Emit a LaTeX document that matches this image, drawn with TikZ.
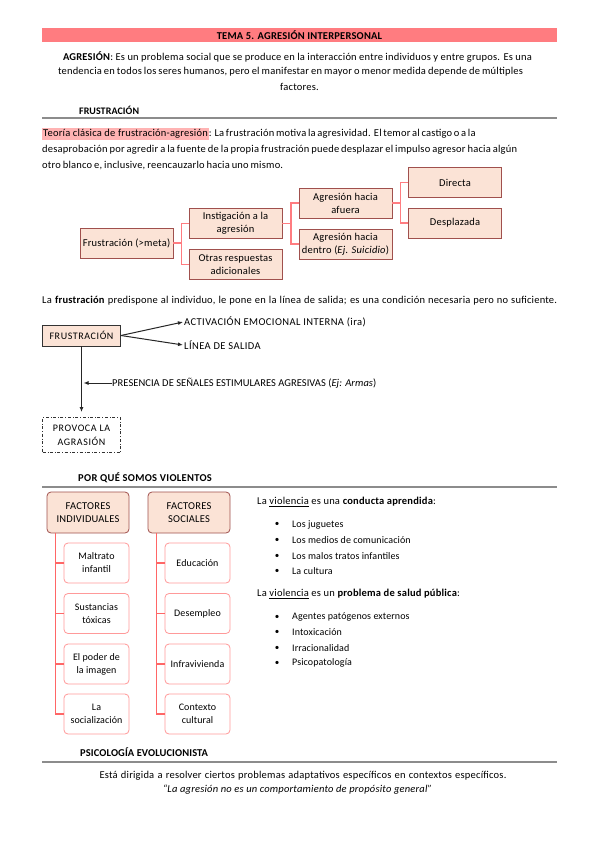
\documentclass[tikz,border=0pt]{standalone}
\usepackage{fontspec}
\setmainfont{Carlito}
\usetikzlibrary{arrows.meta}
\definecolor{titlebar}{HTML}{FF7C80}
\definecolor{hl}{HTML}{FFB3B3}
\definecolor{peach}{HTML}{FBE3D6}
\definecolor{dkred}{HTML}{A0504D}
\definecolor{conn}{HTML}{FF7C80}
\definecolor{pinkb}{HTML}{FF9999}
\definecolor{redline}{HTML}{FF6666}
\definecolor{rulegray}{HTML}{8C8C8C}
\newcommand{\fs}[1]{\fontsize{#1}{#1}\selectfont}
\newcommand{\lsp}[1]{\addfontfeatures{LetterSpace=#1}}
\newcommand{\fitline}[2]{\makebox[#1][s]{#2}}
\tikzset{
  txt/.style={font=\fs{10.5}\lsp{2}, inner sep=0pt},
  head/.style={font=\bfseries\fs{10}\lsp{1}, inner sep=0pt, anchor=west},
  hrule/.style={draw=rulegray, line width=1.3pt},
  tbox/.style={draw=dkred, fill=peach, line width=0.9pt, minimum width=93pt, minimum height=30pt,
    align=center, inner sep=1pt, font=\fontsize{10.5}{13}\selectfont\lsp{2}},
  tconn/.style={draw=conn, line width=1.1pt},
  fparent/.style={draw=dkred, fill=peach, line width=0.8pt, rounded corners=4pt, minimum width=82pt,
    minimum height=41pt, align=center, inner sep=1pt, font=\fontsize{10.5}{13}\selectfont\lsp{2}},
  fchild/.style={draw=pinkb, fill=white, line width=0.8pt, rounded corners=4pt, minimum width=65pt,
    minimum height=40pt, align=center, inner sep=1pt, font=\fontsize{10}{13}\selectfont\lsp{1}},
  fline/.style={draw=redline, line width=1.1pt},
  arr/.style={-{Latex[length=5pt,width=4pt]}, line width=1pt, draw=black!85},
  caplab/.style={inner sep=0pt, anchor=west, font=\fs{10.5}\lsp{4}},
  bul/.style={inner sep=0pt, anchor=center, font=\fs{9}},
  item/.style={inner sep=0pt, anchor=west, font=\fs{10}\lsp{1}}
}
\begin{document}
\begin{tikzpicture}[x=1pt,y=-1pt]
\useasboundingbox (0,0) rectangle (599,848);
\fill[white] (0,0) rectangle (599,848);

% title
\node[fill=titlebar, minimum width=515pt, minimum height=14pt, inner sep=0pt,
  font=\bfseries\fs{10.5}\lsp{2}] (title) at (299.5,35) {TEMA 5. AGRESIÓN INTERPERSONAL};

\node[txt] (p1) at (297.5,57) {\fitline{469pt}{\textbf{AGRESIÓN}: Es un problema social que se produce en la interacción entre individuos y entre grupos. Es una}};
\node[txt] (p2) at (290.5,72) {\fitline{465pt}{tendencia en todos los seres humanos, pero el manifestar en mayor o menor medida depende de múltiples}};
\node[txt] (p3) at (299.5,87) {factores.};

% FRUSTRACION heading
\node[head] (h1) at (79,110) {FRUSTRACIÓN};
\draw[hrule] (42,118) coordinate (r1a) -- (557,118) coordinate (r1b);

\node[txt, anchor=west] (t1) at (42,134) {\fitline{433pt}{{\setlength\fboxsep{1pt}\colorbox{hl}{Teoría clásica de frustración-agresión}}: La frustración motiva la agresividad. El temor al castigo o a la}};
\node[txt, anchor=west] (t2) at (42,150) {\fitline{475pt}{desaprobación por agredir a la fuente de la propia frustración puede desplazar el impulso agresor hacia algún}};
\node[txt, anchor=west] (t3) at (42,166) {\fitline{241pt}{otro blanco e, inclusive, reencauzarlo hacia uno mismo.}};

% tree
\node[tbox] (fr) at (126.5,243) {Frustración (>meta)};
\node[tbox] (ins) at (235.5,223.5) {Instigación a la\\agresión};
\node[tbox] (otr) at (235.5,264.5) {Otras respuestas\\adicionales};
\node[tbox] (afu) at (345.5,203) {Agresión hacia\\afuera};
\node[tbox] (den) at (345.5,244) {Agresión hacia\\dentro (\textit{Ej. Suicidio})};
\node[tbox] (dir) at (455,182.5) {Directa};
\node[tbox] (des) at (455,223) {Desplazada};

\draw[tconn] (fr.east) -- ++(8,0) |- (ins.west);
\draw[tconn] (fr.east) -- ++(8,0) |- (otr.west);
\draw[tconn] (ins.east) -- ++(8.5,0) |- (afu.west);
\draw[tconn] (ins.east) -- ++(8.5,0) |- (den.west);
\draw[tconn] (afu.east) -- ++(8,0) |- (dir.west);
\draw[tconn] (afu.east) -- ++(8,0) |- (des.west);

% predisposition
\node[txt, anchor=west] (pl) at (42,301) {\fitline{515pt}{La \textbf{frustración} predispone al individuo, le pone en la línea de salida; es una condición necesaria pero no suficiente.}};

\node[draw=black!80, fill=peach, line width=0.9pt, minimum width=78pt, minimum height=21pt, inner sep=0pt,
  font=\fs{10}\lsp{6}] (fb) at (81.5,335.5) {FRUSTRACIÓN};
\node[caplab] (act) at (184,322) {ACTIVACIÓN EMOCIONAL INTERNA (ira)};
\node[caplab] (lin) at (184,345) {LÍNEA DE SALIDA};
\draw[arr] (fb.east) -- ([xshift=-1pt]act.west);
\draw[arr] (fb.east) -- ([xshift=-1pt]lin.west);

\node[draw=black!80, dash dot, line width=0.9pt, minimum width=78pt, minimum height=35pt, inner sep=1pt,
  align=center, font=\fontsize{10}{14}\selectfont\lsp{6}] (prov) at (81.5,435) {PROVOCA LA\\AGRASIÓN};
\draw[arr] (fb.south) -- ([yshift=5pt]prov.north);

\node[caplab, font=\fs{10.5}\lsp{0.5}] (pres) at (112,383) {PRESENCIA DE SEÑALES ESTIMULARES AGRESIVAS (\textit{Ej: Armas})};
\draw[arr] (pres.west) -- ([xshift=2pt]fb.south |- pres.west);

% POR QUE
\node[head, font=\bfseries\fs{10.5}\lsp{3}] (h2) at (78,478) {POR QUÉ SOMOS VIOLENTOS};
\draw[hrule] (42,487) coordinate (r2a) -- (557,487) coordinate (r2b);

\node[fparent] (fi) at (88,512.5) {FACTORES\\INDIVIDUALES};
\node[fparent] (fs) at (189,512.5) {FACTORES\\SOCIALES};

\node[fchild] (i1) at (96.5,563) {Maltrato\\infantil};
\node[fchild] (i2) at (96.5,613.5) {Sustancias\\tóxicas};
\node[fchild] (i3) at (96.5,664) {El poder de\\la imagen};
\node[fchild] (i4) at (96.5,714) {La\\socialización};

\node[fchild] (s1) at (197.5,563) {Educación};
\node[fchild] (s2) at (197.5,613.5) {Desempleo};
\node[fchild] (s3) at (197.5,664) {Infravivienda};
\node[fchild] (s4) at (197.5,714) {Contexto\\cultural};

\foreach \c in {i1,i2,i3,i4} {\draw[fline] ([xshift=9pt]fi.south west) |- (\c.west);}
\foreach \c in {s1,s2,s3,s4} {\draw[fline] ([xshift=9pt]fs.south west) |- (\c.west);}

% right text
\node[item, font=\fs{10.5}\lsp{2}] (v1) at (257,502) {La \underline{violencia} es una \textbf{conducta aprendida}:};
\node[bul] (b1) at (277,524.5) {•};
\node[item] (l1) at (292,524.5) {Los juguetes};
\node[bul] (b2) at (277,540) {•};
\node[item] (l2) at (292,540) {Los medios de comunicación};
\node[bul] (b3) at (277,556) {•};
\node[item] (l3) at (292,556) {Los malos tratos infantiles};
\node[bul] (b4) at (277,571) {•};
\node[item] (l4) at (292,571) {La cultura};

\node[item, font=\fs{10.5}\lsp{2}] (v2) at (257,594) {La \underline{violencia} es un \textbf{problema de salud pública}:};
\node[bul] (b5) at (277,617) {•};
\node[item] (l5) at (292,617) {Agentes patógenos externos};
\node[bul] (b6) at (277,632) {•};
\node[item] (l6) at (292,632) {Intoxicación};
\node[bul] (b7) at (277,648) {•};
\node[item] (l7) at (292,648) {Irracionalidad};
\node[bul] (b8) at (277,663) {•};
\node[item] (l8) at (292,663) {Psicopatología};

% PSICOLOGIA
\node[head, font=\bfseries\fs{10.5}\lsp{1}] (h3) at (80,752) {PSICOLOGÍA EVOLUCIONISTA};
\draw[hrule] (42,762) coordinate (r3a) -- (557,762) coordinate (r3b);
\node[txt] (e1) at (303,776) {\fitline{407pt}{Está dirigida a resolver ciertos problemas adaptativos específicos en contextos específicos.}};
\node[txt, font=\itshape\fs{10.5}\lsp{2}] (e2) at (297.5,790) {“La agresión no es un comportamiento de propósito general”};
\end{tikzpicture}
\end{document}
